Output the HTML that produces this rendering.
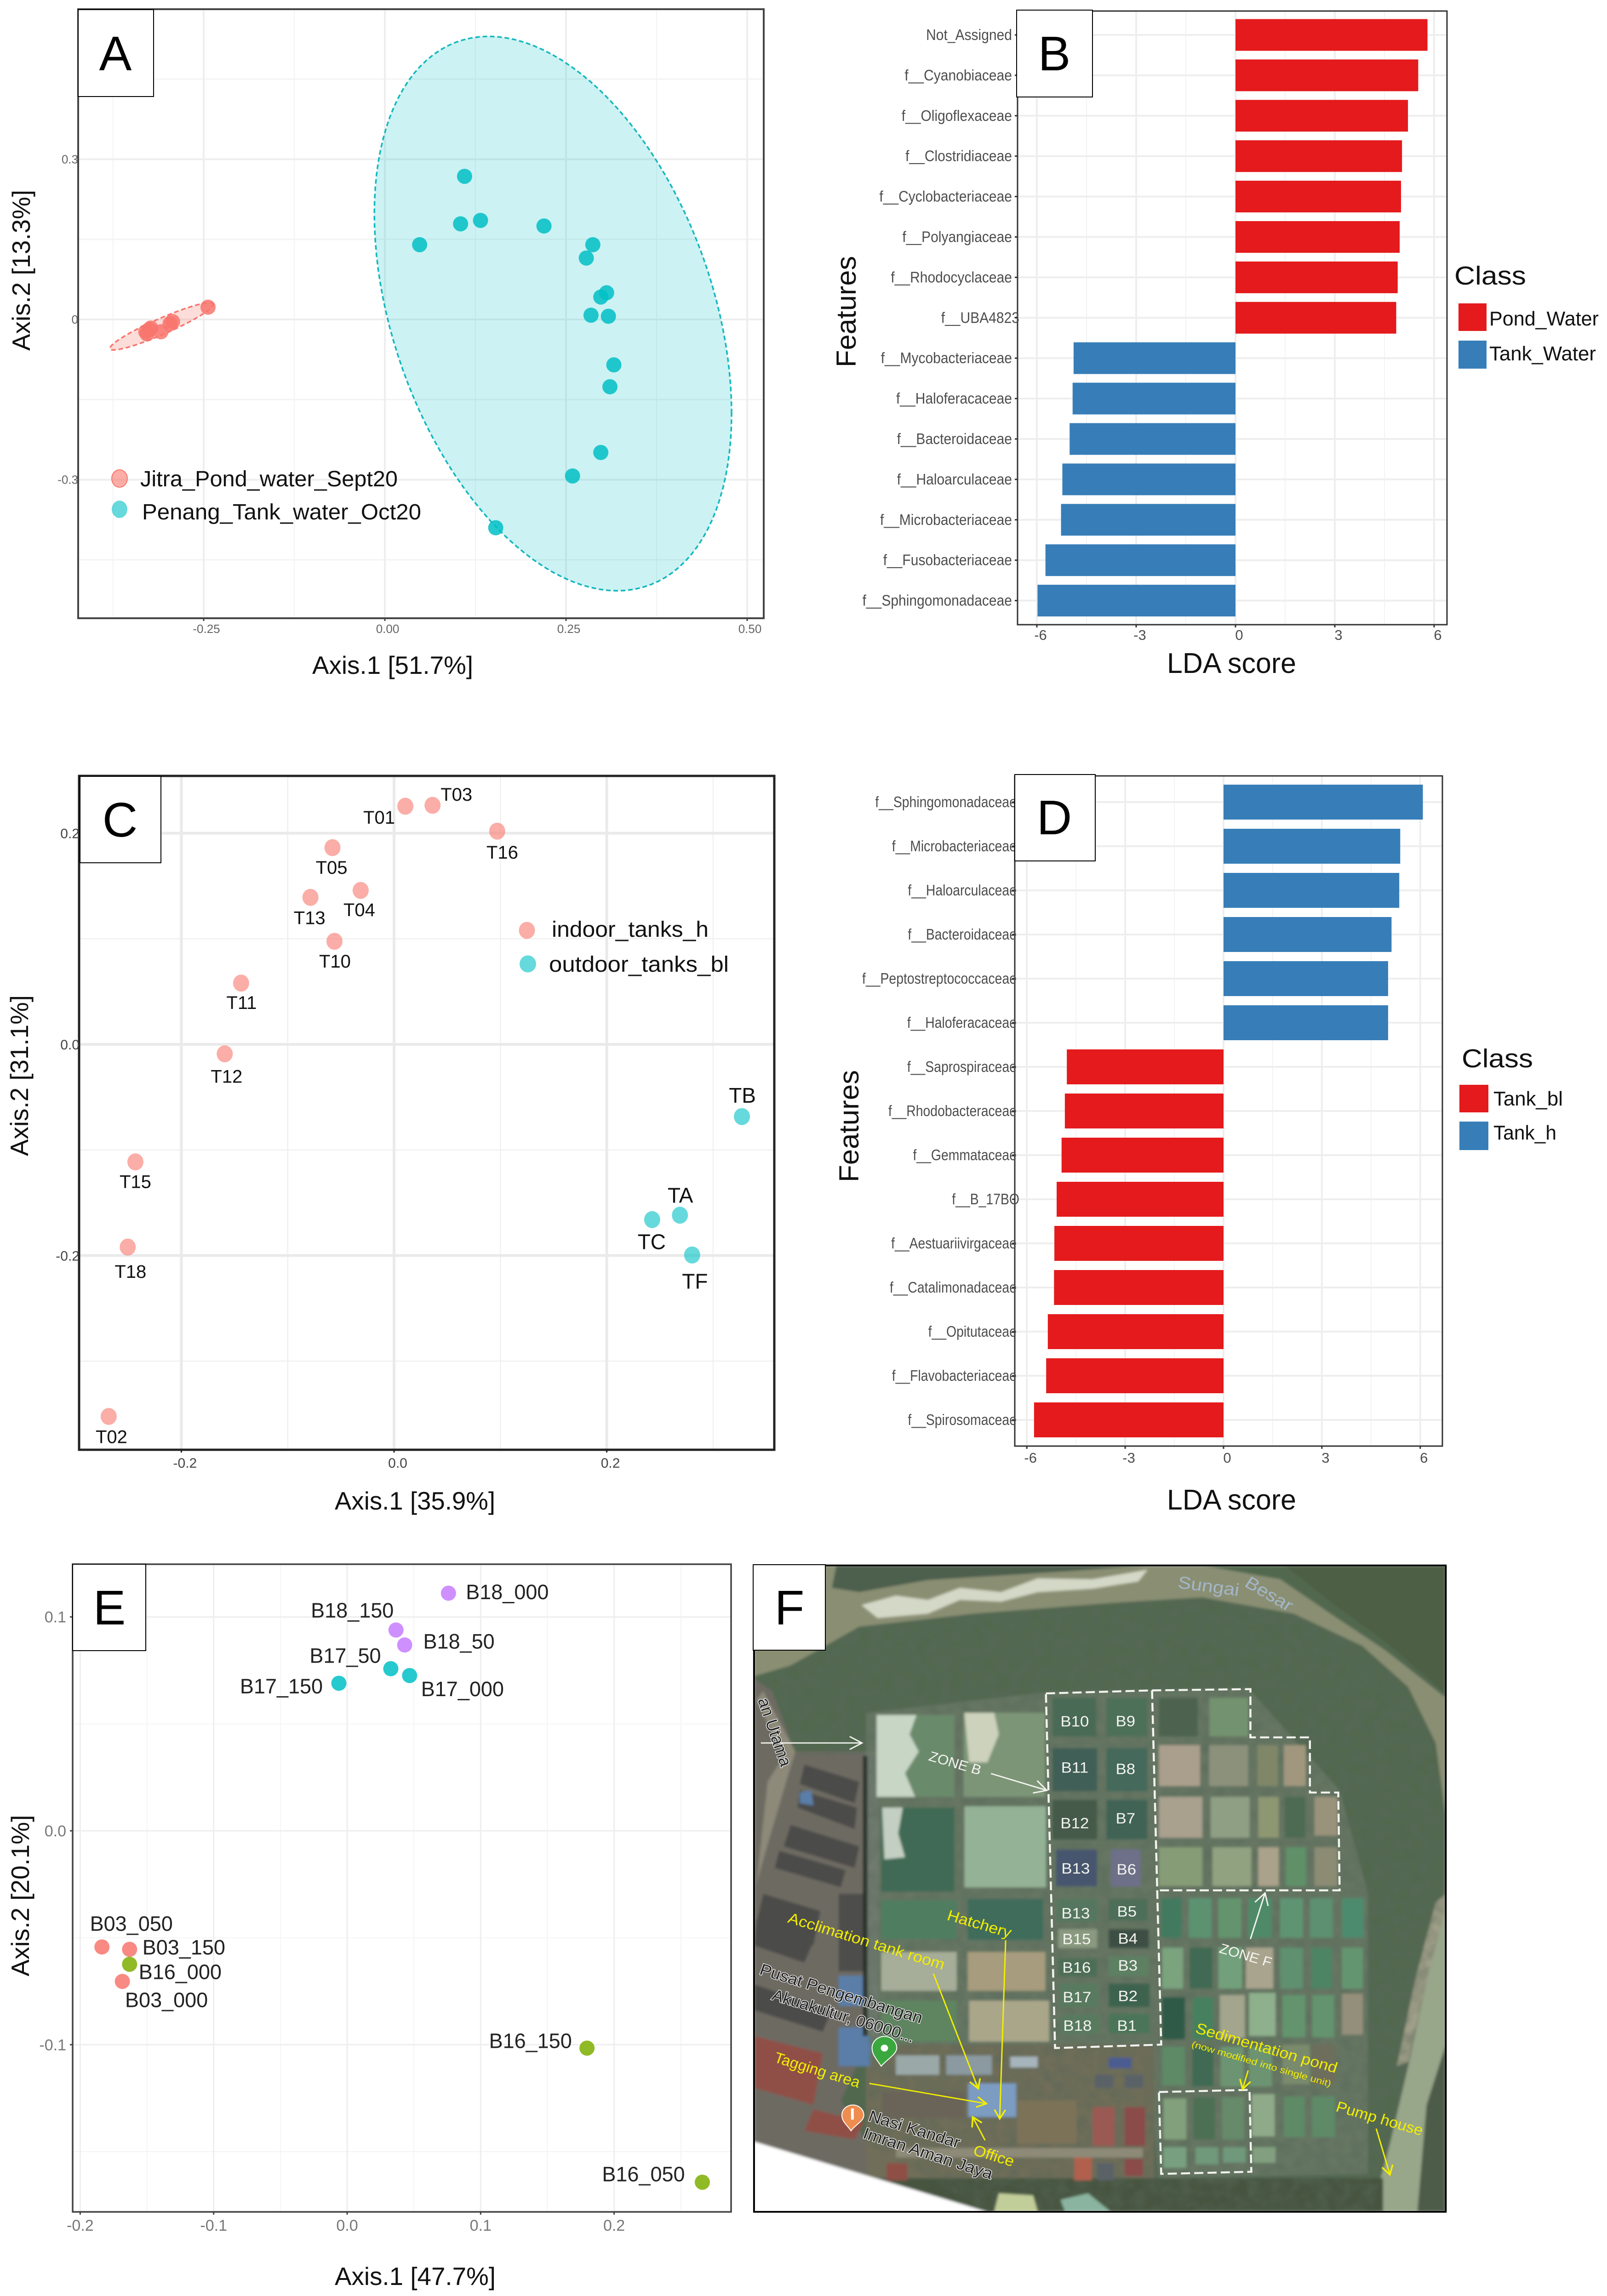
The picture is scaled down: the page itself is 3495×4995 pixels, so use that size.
<!DOCTYPE html>
<html lang="en">
<head>
<meta charset="utf-8">
<title>Microbial community figure, panels A to F</title>
<style>
html,body{margin:0;padding:0;background:#fff}
svg{display:block}
text{font-family:"Liberation Sans",sans-serif}
.title{font-size:55px;fill:#111}
.letter{font-size:106px;fill:#000;text-anchor:middle}
.box{fill:#fff;stroke:#000;stroke-width:2}
.yl{fill:#f2ee00;font-size:35px}
.wh{fill:#f4f4f0;font-size:35px;text-anchor:middle}
.dk{fill:#222;font-size:37px;stroke:#e8e8e8;stroke-width:3px;paint-order:stroke}
</style>
</head>
<body>
<svg xmlns="http://www.w3.org/2000/svg" width="3495" height="4995" viewBox="0 0 3495 4995">
<defs>
<filter id="soft" x="-2%" y="-2%" width="104%" height="104%"><feGaussianBlur stdDeviation="3"/></filter>
<filter id="grain" x="0" y="0" width="100%" height="100%"><feTurbulence type="fractalNoise" baseFrequency="0.04" numOctaves="3" seed="7"/><feColorMatrix values="0 0 0 0 0.1  0 0 0 0 0.14  0 0 0 0 0.1  0.7 0.7 0 0 -0.5"/></filter>
<clipPath id="mapclip"><rect x="20" y="38" width="1512" height="1500"/></clipPath>
<clipPath id="forestclip"><path d="M20 295L100 270L250 180L500 150L800 125L1000 112L1200 150L1350 225L1450 320L1510 450L1532 620V830L1490 1000L1450 1200L1410 1380L1370 1538H530L270 1380L265 480H110L60 330Z"/></clipPath>
<marker id="ya" markerWidth="10" markerHeight="10" refX="8" refY="5" orient="auto"><path d="M1 1L8 5L1 9" fill="none" stroke="#f2ee00" stroke-width="1.2"/></marker>
<marker id="wa" markerWidth="12" markerHeight="12" refX="10" refY="6" orient="auto"><path d="M1 1L10 6L1 11" fill="none" stroke="#f4f4f0" stroke-width="1"/></marker>
</defs>
<rect width="3495" height="4995" fill="#fff"/>

<g id="panelA"></g>
<g>
<rect class="box" x="170" y="21" width="164" height="189"/>
<text class="letter" x="251" y="153">A</text>
<text class="title" x="679" y="1466" textLength="350" lengthAdjust="spacingAndGlyphs">Axis.1 [51.7%]</text>
<text class="title" text-anchor="middle" transform="translate(65,588) rotate(-90)" textLength="350" lengthAdjust="spacingAndGlyphs">Axis.2 [13.3%]</text>
<ellipse cx="260" cy="1041" rx="17" ry="19" fill="#F8766D" fill-opacity=".6" stroke="#F8766D" stroke-width="2"/>
<ellipse cx="260" cy="1108" rx="17" ry="19" fill="#00BFC4" fill-opacity=".6"/>
<text x="305" y="1058" font-size="48" fill="#111" textLength="560" lengthAdjust="spacingAndGlyphs">Jitra_Pond_water_Sept20</text>
<text x="309" y="1130" font-size="48" fill="#111" textLength="607" lengthAdjust="spacingAndGlyphs">Penang_Tank_water_Oct20</text>
</g>

<g id="panelB"></g>
<g>
<rect class="box" x="2211" y="22" width="165" height="189"/>
<text class="letter" x="2293" y="153">B</text>
<text x="2538" y="1464" font-size="62" fill="#111" textLength="281" lengthAdjust="spacingAndGlyphs">LDA score</text>
<text font-size="60" fill="#111" text-anchor="middle" transform="translate(1861,678) rotate(-90)" textLength="242" lengthAdjust="spacingAndGlyphs">Features</text>
<text x="3163" y="619" font-size="57" fill="#111" textLength="156" lengthAdjust="spacingAndGlyphs">Class</text>
<rect x="3172" y="660" width="61" height="60" fill="#E41A1C"/>
<rect x="3172" y="741" width="61" height="61" fill="#377EB8"/>
<text x="3239" y="708" font-size="44" fill="#111" textLength="238" lengthAdjust="spacingAndGlyphs">Pond_Water</text>
<text x="3239" y="784" font-size="44" fill="#111" textLength="232" lengthAdjust="spacingAndGlyphs">Tank_Water</text>
</g>

<g id="panelC"></g>
<g>
<rect class="box" x="174" y="1689" width="176" height="188"/>
<text class="letter" x="261" y="1820">C</text>
<text class="title" x="728" y="3284" textLength="349" lengthAdjust="spacingAndGlyphs">Axis.1 [35.9%]</text>
<text class="title" text-anchor="middle" transform="translate(61,2340) rotate(-90)" textLength="350" lengthAdjust="spacingAndGlyphs">Axis.2 [31.1%]</text>
<ellipse cx="1146" cy="2024" rx="17.5" ry="18.5" fill="#F8766D" fill-opacity=".6"/>
<ellipse cx="1148" cy="2097" rx="18" ry="18.5" fill="#00BFC4" fill-opacity=".6"/>
<text x="1200" y="2038" font-size="48" fill="#111" textLength="341" lengthAdjust="spacingAndGlyphs">indoor_tanks_h</text>
<text x="1194" y="2114" font-size="48" fill="#111" textLength="391" lengthAdjust="spacingAndGlyphs">outdoor_tanks_bl</text>
</g>

<g id="panelD"></g>
<g>
<rect class="box" x="2207" y="1685" width="175" height="188"/>
<text class="letter" x="2293" y="1815">D</text>
<text x="2538" y="3284" font-size="62" fill="#111" textLength="281" lengthAdjust="spacingAndGlyphs">LDA score</text>
<text font-size="60" fill="#111" text-anchor="middle" transform="translate(1867,2450) rotate(-90)" textLength="244" lengthAdjust="spacingAndGlyphs">Features</text>
<text x="3179" y="2322" font-size="57" fill="#111" textLength="155" lengthAdjust="spacingAndGlyphs">Class</text>
<rect x="3174" y="2360" width="63" height="60" fill="#E41A1C"/>
<rect x="3174" y="2440" width="63" height="62" fill="#377EB8"/>
<text x="3248" y="2405" font-size="44" fill="#111" textLength="151" lengthAdjust="spacingAndGlyphs">Tank_bl</text>
<text x="3248" y="2479" font-size="44" fill="#111" textLength="137" lengthAdjust="spacingAndGlyphs">Tank_h</text>
</g>

<g id="panelE"></g>
<g>
<rect class="box" x="158" y="3403" width="159" height="188"/>
<text class="letter" x="238" y="3534">E</text>
<text class="title" x="728" y="4971" textLength="350" lengthAdjust="spacingAndGlyphs">Axis.1 [47.7%]</text>
<text class="title" text-anchor="middle" transform="translate(63,4124) rotate(-90)" textLength="351" lengthAdjust="spacingAndGlyphs">Axis.2 [20.1%]</text>
</g>

<g transform="translate(1620,3370) scale(.995,.9375)">
<g clip-path="url(#mapclip)">
<g filter="url(#soft)">
<rect x="20" y="38" width="1512" height="1500" fill="#51684f"/>
<path d="M20 38H1000L1170 70L1280 150L1400 235L1532 345V620L1510 450L1450 320L1350 225L1200 150L1000 112L800 125L500 150L250 180L100 270L20 295Z" fill="#8a8f73"/>
<path d="M200 38H880L700 52L400 72L250 100L190 90Z" fill="#4d5f4e"/>
<path d="M255 130L330 108L400 118L470 90L560 100L640 68L760 70L880 48L860 75L760 92L640 100L560 122L470 118L400 150L290 160Z" fill="#d4d8c6"/>
<path d="M1180 38H1532V335L1400 215L1290 130Z" fill="#4e5f44"/>
<path d="M1532 830V1150L1490 1290L1470 1538H1370L1410 1380L1450 1200L1490 1000Z" fill="#98a68a"/>
<path d="M1532 1150V1538H1470L1490 1290Z" fill="#4d5c4a"/>
<path d="M1510 820L1532 800V830L1490 1000L1450 1190L1425 1200L1465 1000Z" fill="#a09f88"/>
<path d="M20 300L60 330L110 470L260 470L265 1150L210 1280L270 1380L530 1538H20V1375Z" fill="#6d6a62"/>
<path d="M265 380L660 332L1100 322L1300 560L1362 800L1362 1450L905 1460L880 1155H265Z" fill="#667663"/>
<rect x="265" y="1150" width="630" height="320" fill="#6f6d58"/>
<rect x="265" y="1460" width="1130" height="78" fill="#46543f"/>
<path d="M130 500L250 540L240 590L120 545Z M120 560L245 600L240 650L115 600Z M100 640L250 690L240 740L85 690Z M75 700L220 745L210 785L65 740Z M40 800L165 840L150 920L25 870Z M25 860L150 910L130 960L20 920Z M20 1010L190 1070L170 1120L20 1070Z" fill="#4b4b49"/>
<path d="M20 1130L170 1170L150 1290L20 1250Z M150 1300L260 1330L240 1370L130 1350Z M310 1425H355V1465H310Z" fill="#8f4f46"/>
<path d="M205 990H265V1060H205Z M205 1110H275V1200H205Z M120 565L145 560L150 595L120 590Z" fill="#5a7ea8"/>
<path d="M205 800H260V980H205Z" fill="#4d4e4c"/>
<rect x="262" y="470" width="30" height="660" fill="#6f7a6e"/>
<rect x="258" y="480" width="10" height="650" fill="#2c332c"/>
<path d="M40 330L110 470L90 540L40 720L25 780L50 540L85 480L25 350Z" fill="#8e8a7a"/>
<g clip-path="url(#forestclip)"><rect x="20" y="38" width="1512" height="1500" filter="url(#grain)"/></g>
<g>
<rect x="290" y="385" width="168" height="190" fill="#6a8a6c"/><path d="M288 385H375L360 430L380 470L350 520L372 575H288Z" fill="#c8d6c6"/>
<rect x="478" y="380" width="178" height="195" fill="#7d9577"/><path d="M480 380H545L555 430L530 495H490Z" fill="#ccd2bc"/>
<rect x="298" y="600" width="160" height="195" fill="#3f6a55"/><path d="M300 600H345L335 660L350 715L305 720Z" fill="#c2cfc2"/>
<rect x="480" y="597" width="178" height="188" fill="#94b296"/>
<rect x="298" y="815" width="165" height="90" fill="#4f7d60"/><rect x="487" y="812" width="165" height="95" fill="#3f6c5c"/>
<rect x="298" y="935" width="165" height="90" fill="#a6ad98"/><rect x="487" y="935" width="170" height="90" fill="#a79c7d"/>
<rect x="298" y="1048" width="165" height="95" fill="#5e8460"/><rect x="490" y="1048" width="175" height="95" fill="#aaa68a"/>
</g>
<g>
<rect x="672" y="345" width="96" height="90" fill="#4a6b55"/><rect x="790" y="345" width="90" height="90" fill="#4e7058"/>
<rect x="672" y="462" width="98" height="100" fill="#3f5f56"/><rect x="790" y="462" width="90" height="100" fill="#44695a"/>
<rect x="672" y="582" width="98" height="92" fill="#445a48"/><rect x="790" y="582" width="90" height="92" fill="#3f6456"/>
<rect x="680" y="697" width="90" height="86" fill="#46566e"/><rect x="800" y="697" width="65" height="86" fill="#6d6f88"/>
<rect x="682" y="812" width="90" height="54" fill="#56775f"/><rect x="795" y="812" width="85" height="50" fill="#4d6e58"/>
<rect x="685" y="882" width="85" height="44" fill="#8a9a80"/><rect x="795" y="882" width="88" height="44" fill="#3c5044"/>
<rect x="685" y="950" width="85" height="42" fill="#4e6e56"/><rect x="795" y="945" width="88" height="46" fill="#5d8063"/>
<rect x="688" y="1008" width="85" height="55" fill="#597a5e"/><rect x="795" y="1008" width="90" height="55" fill="#3e6350"/>
<rect x="690" y="1080" width="85" height="46" fill="#597a5e"/><rect x="795" y="1078" width="90" height="46" fill="#4c7458"/>
</g>
<g>
<rect x="905" y="345" width="85" height="90" fill="#4d6450"/><rect x="1015" y="345" width="85" height="90" fill="#739270"/>
<rect x="905" y="455" width="90" height="95" fill="#aa9f8c"/><rect x="1015" y="455" width="85" height="95" fill="#8c917c"/><rect x="1120" y="455" width="45" height="95" fill="#7f8768"/><rect x="1178" y="455" width="48" height="95" fill="#a0977e"/>
<rect x="905" y="575" width="95" height="95" fill="#a9a08e"/><rect x="1018" y="575" width="85" height="95" fill="#8f9f84"/><rect x="1122" y="575" width="45" height="95" fill="#8d9772"/><rect x="1180" y="575" width="45" height="95" fill="#4e6a52"/><rect x="1245" y="575" width="50" height="90" fill="#9a937c"/>
<rect x="905" y="692" width="95" height="90" fill="#869c76"/><rect x="1022" y="692" width="85" height="90" fill="#90a280"/><rect x="1122" y="692" width="45" height="90" fill="#aaa28a"/><rect x="1182" y="692" width="45" height="90" fill="#5f9068"/><rect x="1245" y="692" width="50" height="90" fill="#8c8c74"/>
</g>
<g>
<rect x="910" y="810" width="45" height="92" fill="#427a60"/><rect x="970" y="810" width="50" height="92" fill="#5c9270"/><rect x="1035" y="810" width="50" height="92" fill="#63946e"/><rect x="1100" y="810" width="52" height="92" fill="#4f8a68"/><rect x="1170" y="810" width="50" height="92" fill="#5e9472"/><rect x="1235" y="810" width="50" height="92" fill="#5c9070"/><rect x="1305" y="810" width="48" height="92" fill="#4d8b6e"/>
<rect x="912" y="925" width="46" height="95" fill="#7aa37e"/><rect x="972" y="925" width="50" height="95" fill="#3f6a52"/><rect x="1035" y="925" width="52" height="95" fill="#73a07c"/><rect x="1095" y="925" width="60" height="95" fill="#a9a48e"/><rect x="1170" y="925" width="50" height="95" fill="#5e9070"/><rect x="1238" y="925" width="46" height="95" fill="#4d8464"/><rect x="1305" y="925" width="46" height="95" fill="#64966f"/>
<rect x="912" y="1040" width="50" height="98" fill="#2f5a46"/><rect x="978" y="1040" width="46" height="98" fill="#47805f"/><rect x="1038" y="1035" width="55" height="100" fill="#a3a58c"/><rect x="1102" y="1030" width="58" height="100" fill="#8fb08c"/><rect x="1175" y="1035" width="50" height="98" fill="#63946e"/><rect x="1240" y="1035" width="48" height="98" fill="#63946e"/><rect x="1305" y="1032" width="46" height="95" fill="#948f7a"/>
<rect x="912" y="1155" width="50" height="90" fill="#5e8a66"/><rect x="978" y="1155" width="46" height="92" fill="#3f6a52"/><rect x="1040" y="1155" width="50" height="92" fill="#6d9472"/><rect x="1102" y="1155" width="50" height="92" fill="#6d9472"/><rect x="1175" y="1150" width="60" height="92" fill="#7a8a6c"/><rect x="1240" y="1150" width="50" height="92" fill="#6e6e5c"/>
<rect x="915" y="1275" width="50" height="95" fill="#82a07c"/><rect x="980" y="1272" width="48" height="98" fill="#4d7055"/><rect x="1043" y="1272" width="48" height="98" fill="#668a6a"/><rect x="1108" y="1265" width="50" height="98" fill="#8faa88"/><rect x="1178" y="1270" width="46" height="95" fill="#5e8a66"/><rect x="1240" y="1270" width="50" height="95" fill="#5e8a68"/>
<rect x="915" y="1388" width="50" height="48" fill="#78a080"/><rect x="985" y="1388" width="50" height="40" fill="#70987a"/><rect x="1045" y="1388" width="50" height="36" fill="#70987a"/><rect x="1110" y="1388" width="50" height="36" fill="#82a080"/>
</g>
<g>
<rect x="330" y="1175" width="95" height="45" fill="#9aa8a8"/><rect x="440" y="1175" width="100" height="45" fill="#8a9aa0"/>
<rect x="488" y="1240" width="105" height="78" fill="#7c9cc2"/><rect x="580" y="1178" width="60" height="25" fill="#a6b4bc"/>
<rect x="300" y="1260" width="180" height="60" fill="#6a6458"/><rect x="595" y="1280" width="130" height="100" fill="#7c7258"/>
<rect x="760" y="1295" width="48" height="90" fill="#9a5a52"/><rect x="830" y="1295" width="45" height="90" fill="#8a4c48"/><rect x="795" y="1180" width="50" height="25" fill="#4c5c90"/>
<rect x="765" y="1220" width="40" height="30" fill="#5a6268"/><rect x="830" y="1220" width="40" height="30" fill="#5a6268"/>
<rect x="720" y="1410" width="38" height="55" fill="#b0604e"/><rect x="830" y="1415" width="40" height="40" fill="#8a4c48"/><rect x="770" y="1425" width="36" height="40" fill="#5a6268"/>
<path d="M555 1495L630 1500L640 1538H545Z" fill="#c2ce9a"/><path d="M690 1510L750 1495L800 1538H700Z" fill="#8ab4a0"/>
<rect x="330" y="1390" width="540" height="22" fill="#8e8a78"/>
</g>
<path d="M20 1375L530 1538H20Z" fill="#fff"/>
</g>
<g fill="none" stroke="#f4f4f0" stroke-width="4.5" stroke-dasharray="20 9">
<path d="M658 335L890 328L910 1150L678 1158Z"/>
<path d="M890 328L1105 325V437H1235V565H1297L1300 792H905"/>
<path d="M905 1260L1103 1255L1107 1445L910 1450Z"/>
</g>
<g fill="none">
<path d="M35 450H256" stroke="#f4f4f0" stroke-width="3" marker-end="url(#wa)"/>
<path d="M538 521L660 560" stroke="#f4f4f0" stroke-width="3" marker-end="url(#wa)"/>
<path d="M1105 905L1137 798" stroke="#f4f4f0" stroke-width="3" marker-end="url(#wa)"/>
<path d="M412 985L510 1252" stroke="#f2ee00" stroke-width="3" marker-end="url(#ya)"/>
<path d="M570 908L557 1322" stroke="#f2ee00" stroke-width="3" marker-end="url(#ya)"/>
<path d="M272 1240L528 1287" stroke="#f2ee00" stroke-width="3" marker-end="url(#ya)"/>
<path d="M525 1372L498 1318" stroke="#f2ee00" stroke-width="3" marker-end="url(#ya)"/>
<path d="M1100 1210L1088 1253" stroke="#f2ee00" stroke-width="3" marker-end="url(#ya)"/>
<path d="M1380 1345L1410 1452" stroke="#f2ee00" stroke-width="3" marker-end="url(#ya)"/>
</g>
<text transform="translate(945,90) rotate(8)" font-size="40" fill="#a3b6c8" textLength="135" lengthAdjust="spacingAndGlyphs">Sungai</text>
<text transform="translate(1090,85) rotate(32)" font-size="40" fill="#a3b6c8" textLength="115" lengthAdjust="spacingAndGlyphs">Besar</text>
<text class="dk" transform="translate(28,350) rotate(72)" textLength="165" lengthAdjust="spacingAndGlyphs">an Utama</text>
<g>
<text class="wh" x="721" y="412">B10</text><text class="wh" x="832" y="411">B9</text>
<text class="wh" x="721" y="519">B11</text><text class="wh" x="832" y="522">B8</text>
<text class="wh" x="721" y="648">B12</text><text class="wh" x="832" y="637">B7</text>
<text class="wh" x="723" y="753">B13</text><text class="wh" x="834" y="755">B6</text>
<text class="wh" x="723" y="857">B13</text><text class="wh" x="835" y="853">B5</text>
<text class="wh" x="725" y="917">B15</text><text class="wh" x="837" y="916">B4</text>
<text class="wh" x="725" y="983">B16</text><text class="wh" x="837" y="978">B3</text>
<text class="wh" x="726" y="1052">B17</text><text class="wh" x="837" y="1049">B2</text>
<text class="wh" x="727" y="1118">B18</text><text class="wh" x="835" y="1118">B1</text>
</g>
<text transform="translate(400,490) rotate(17)" font-size="32" fill="#f4f4f0" textLength="118" lengthAdjust="spacingAndGlyphs">ZONE B</text>
<text transform="translate(1035,936) rotate(17)" font-size="32" fill="#f4f4f0" textLength="118" lengthAdjust="spacingAndGlyphs">ZONE F</text>
<text class="yl" transform="translate(92,866) rotate(18)" textLength="358" lengthAdjust="spacingAndGlyphs">Acclimation tank room</text>
<text class="yl" transform="translate(440,860) rotate(17)" textLength="145" lengthAdjust="spacingAndGlyphs">Hatchery</text>
<text class="yl" transform="translate(62,1190) rotate(18)" textLength="195" lengthAdjust="spacingAndGlyphs">Tagging area</text>
<text class="yl" transform="translate(497,1405) rotate(18)" textLength="92" lengthAdjust="spacingAndGlyphs">Office</text>
<text class="yl" transform="translate(983,1122) rotate(17)" textLength="322" lengthAdjust="spacingAndGlyphs">Sedimentation pond</text>
<text class="yl" style="font-size:21px" transform="translate(975,1155) rotate(17)" textLength="318" lengthAdjust="spacingAndGlyphs">(now modified into single unit)</text>
<text class="yl" transform="translate(1290,1304) rotate(17)" textLength="197" lengthAdjust="spacingAndGlyphs">Pump house</text>
<text class="dk" transform="translate(30,986) rotate(18)" textLength="372" lengthAdjust="spacingAndGlyphs">Pusat Pengembangan</text>
<text class="dk" transform="translate(57,1045) rotate(18)" textLength="325" lengthAdjust="spacingAndGlyphs">Akuakultur, 06000...</text>
<text class="dk" transform="translate(268,1326) rotate(18)" textLength="208" lengthAdjust="spacingAndGlyphs">Nasi Kandar</text>
<text class="dk" transform="translate(256,1366) rotate(19)" textLength="297" lengthAdjust="spacingAndGlyphs">Imran Aman Jaya</text>
<path d="M298 1200C285 1180 278 1172 278 1158A27 27 0 1 1 332 1158C332 1172 310 1185 298 1200Z" fill="#3aa83e" stroke="#fff" stroke-width="2"/>
<circle cx="305" cy="1158" r="8" fill="#fff"/>
<path d="M232 1350C222 1335 212 1328 212 1314A24 24 0 1 1 260 1314C260 1328 242 1335 232 1350Z" fill="#ee8d4f" stroke="#fff" stroke-width="2"/>
<rect x="232" y="1298" width="6" height="26" fill="#fff"/>
</g>
<rect x="20" y="38" width="1512" height="1500" fill="none" stroke="#000" stroke-width="4"/>
</g>
<rect class="box" x="1638" y="3404" width="157" height="186"/>
<text class="letter" x="1717" y="3534">F</text>
</svg>

<script>
// Panel A: ordination
const aTankX = [0.110,0.1045,0.132,0.048,0.2196,0.287,0.278,0.306,0.298,0.2845,0.3085,0.316,0.3106,0.298,0.259,0.153];
const aTankY = [0.268,0.179,0.1855,0.140,0.175,0.140,0.115,0.050,0.042,0.008,0.006,-0.085,-0.126,-0.249,-0.293,-0.390];
const aPondX = [-0.244,-0.293,-0.2965,-0.309,-0.325,-0.328,-0.330,-0.323];
const aPondY = [0.023,-0.004,-0.008,-0.023,-0.019,-0.027,-0.023,-0.016];
const aTankEllipse = [0.232,0.011,0.2465,0.519,-0.36];
const aPondEllipse = [-0.308,-0.0128,0.0713,0.0443,0.93];
const aXTicks = [-0.25,0,0.25,0.5];
const aXTickLabels = ['-0.25','0.00','0.25','0.50'];
const aYTicks = [0.3,0,-0.3];
const aYTickLabels = ['0.3','0','-0.3'];
const aXMinor = [-0.375,-0.125,0.125,0.375];
const aYMinor = [0.45,0.15,-0.15,-0.45];

// Panel B: LDA scores
const bFeatures = ['Not_Assigned','f__Cyanobiaceae','f__Oligoflexaceae','f__Clostridiaceae','f__Cyclobacteriaceae','f__Polyangiaceae','f__Rhodocyclaceae','f__UBA4823','f__Mycobacteriaceae','f__Haloferacaceae','f__Bacteroidaceae','f__Haloarculaceae','f__Microbacteriaceae','f__Fusobacteriaceae','f__Sphingomonadaceae'];
const bScores = [5.80,5.52,5.21,5.03,5.00,4.96,4.90,4.855,-4.89,-4.92,-5.01,-5.23,-5.27,-5.74,-5.98];

// Panel C: ordination
const cSamples = ['T01','T03','T16','T05','T04','T13','T10','T11','T12','T15','T18','T02','TB','TA','TC','TF'];
const cX = [0.0106,0.0362,0.0970,-0.0579,-0.0314,-0.0786,-0.0560,-0.1438,-0.1592,-0.2432,-0.2504,-0.2683,0.3271,0.2688,0.2427,0.2803];
const cY = [0.2255,0.2264,0.2019,0.1863,0.1458,0.1392,0.0976,0.0580,-0.0090,-0.1113,-0.1920,-0.3524,-0.0684,-0.1618,-0.1660,-0.1995];
const cXTicks = [-0.2,0,0.2];
const cYTicks = [0.2,0,-0.2];
const cXMinor = [-0.1,0.1,0.3];
const cYMinor = [0.1,-0.1,-0.3];
const cLabelShift = {T01:[-57,38],T03:[52,-10],T16:[11,60],T05:[-2,57],T04:[-3,56],T13:[-2,58],T10:[1,57],T11:[1,56],T12:[4,63],T15:[0,57],T18:[6,67],T02:[6,58],TB:[1,-30],TA:[1,-27],TC:[-1,64],TF:[6,73]};

// Panel D: LDA scores
const dFeatures = ['f__Sphingomonadaceae','f__Microbacteriaceae','f__Haloarculaceae','f__Bacteroidaceae','f__Peptostreptococcaceae','f__Haloferacaceae','f__Saprospiraceae','f__Rhodobacteraceae','f__Gemmataceae','f__B_17BO','f__Aestuariivirgaceae','f__Catalimonadaceae','f__Opitutaceae','f__Flavobacteriaceae','f__Spirosomaceae'];
const dScores = [6.08,5.39,5.36,5.125,5.02,5.02,-4.78,-4.84,-4.94,-5.09,-5.16,-5.17,-5.36,-5.41,-5.78];
const ldaTicks = [-6,-3,0,3,6];
const ldaMinor = [-4.5,-1.5,1.5,4.5];

// Panel E: ordination
const eSamples = ['B03_050','B03_150','B03_000','B16_000','B16_150','B16_050','B17_150','B17_50','B17_000','B18_000','B18_150','B18_50'];
const eGroups = ['B03','B03','B03','B16','B16','B16','B17','B17','B17','B18','B18','B18'];
const eX = [-0.1837,-0.1630,-0.1684,-0.1630,0.1797,0.2661,-0.0062,0.0327,0.0468,0.0759,0.0366,0.0431];
const eY = [-0.0543,-0.0554,-0.0704,-0.0624,-0.1016,-0.1643,0.0690,0.0758,0.0726,0.1111,0.0939,0.0869];
const eXTicks = [-0.2,-0.1,0,0.1,0.2];
const eXTickLabels = ['-0.2','-0.1','0.0','0.1','0.2'];
const eYTicks = [0.1,0,-0.1];
const eYTickLabels = ['0.1','0.0','-0.1'];
const eXMinor = [-0.15,-0.05,0.05,0.15,0.25];
const eYMinor = [0.05,-0.05,-0.15];
const eLabelShift = {B18_000:[128,13],B18_150:[-95,-27],B18_50:[118,8],B17_50:[-99,-13],B17_150:[-125,22],B17_000:[115,45],B03_050:[64,-35],B03_150:[118,11],B16_000:[110,32],B03_000:[96,56],B16_150:[-123,0],B16_050:[-128,-2]};
const eGroupColors = {B03:'#F8766D',B16:'#7CAE00',B17:'#00BFC4',B18:'#C77CFF'};

const NS = 'http://www.w3.org/2000/svg';
function mk(tag, attrs, parent) {
  const el = document.createElementNS(NS, tag);
  for (const k in attrs) el.setAttribute(k, attrs[k]);
  parent.appendChild(el);
  return el;
}
function gridLine(g, x1, y1, x2, y2, color, width) {
  const line = mk('line', {x1, y1, x2, y2, stroke: color, 'stroke-width': width}, g);
  
  
}
function tickMark(g, x1, y1, x2, y2, color) {
  const tick = mk('line', {x1, y1, x2, y2, stroke: color, 'stroke-width': 3}, g);
  
  
}
function tickLabel(g, x, y, str, anchor, size, color) {
  const t = mk('text', {x, y, 'text-anchor': anchor, 'font-size': size, fill: color}, g);
  t.textContent = str;
  
  
}
function frame(g, box, color, width) {
  const r = mk('rect', {x: box.l, y: box.t, width: box.r - box.l, height: box.b - box.t, fill: 'none', stroke: color, 'stroke-width': width}, g);
  
  
}
function ellipsePath(params, sx, sy) {
  const cx = params[0], cy = params[1], rx = params[2], ry = params[3], rho = params[4];
  const s = Math.sqrt(1 - rho * rho);
  let d = '';
  for (let i = 0; i < 120; i++) {
    const t = i / 120 * 2 * Math.PI;
    const x = cx + rx * Math.cos(t);
    const y = cy + ry * (rho * Math.cos(t) + s * Math.sin(t));
    d += (i ? 'L' : 'M') + sx(x).toFixed(1) + ' ' + sy(y).toFixed(1);
  }
  return d + 'Z';
}

// ---------- Panel A ----------
(function () {
  const g = document.getElementById('panelA');
  const box = {l: 170, r: 1661, t: 20, b: 1345};
  const sx = v => 837 + v * 1576;
  const sy = v => 695 - v * 1162;
  aXMinor.forEach(v => gridLine(g, sx(v), box.t, sx(v), box.b, '#f3f3f3', 2));
  aYMinor.forEach(v => gridLine(g, box.l, sy(v), box.r, sy(v), '#f3f3f3', 3));
  aXTicks.forEach(v => gridLine(g, sx(v), box.t, sx(v), box.b, '#eeeeee', 4));
  aYTicks.forEach(v => gridLine(g, box.l, sy(v), box.r, sy(v), '#eeeeee', 4));
  const tankEllipse = mk('path', {d: ellipsePath(aTankEllipse, sx, sy), fill: '#00BFC4', 'fill-opacity': 0.2, stroke: '#12b8bd', 'stroke-width': 3.5, 'stroke-dasharray': '10 6'}, g);
  
  
  const pondEllipse = mk('path', {d: ellipsePath(aPondEllipse, sx, sy), fill: '#F8766D', 'fill-opacity': 0.25, stroke: '#F8766D', 'stroke-width': 3.5, 'stroke-dasharray': '10 6'}, g);
  
  
  aTankX.forEach((v, i) => {
    const p = mk('circle', {cx: sx(v), cy: sy(aTankY[i]), r: 16.5, fill: '#00BFC4', 'fill-opacity': 0.85}, g);
    
    
  });
  aPondX.forEach((v, i) => {
    const p = mk('circle', {cx: sx(v), cy: sy(aPondY[i]), r: 16.5, fill: '#F8766D', 'fill-opacity': 0.85}, g);
    
    
  });
  frame(g, box, '#444', 4);
  aXTicks.forEach((v, i) => {
    tickMark(g, sx(v), box.b, sx(v), box.b + 6, '#444');
    tickLabel(g, sx(v) + 6, 1377, aXTickLabels[i], 'middle', 26, '#666');
  });
  aYTicks.forEach((v, i) => {
    tickLabel(g, box.l, sy(v) + 9, aYTickLabels[i], 'end', 26, '#666');
  });
})();

// ---------- LDA bar panels ----------
function drawLda(gid, features, scores, opts) {
  const g = document.getElementById(gid);
  const box = opts.box;
  const sx = v => opts.zero + v * opts.unit;
  const rowY = i => opts.firstRow + i * opts.step;
  ldaMinor.forEach(v => gridLine(g, sx(v), box.t, sx(v), box.b, '#f3f3f3', 2));
  ldaTicks.forEach(v => gridLine(g, sx(v), box.t, sx(v), box.b, '#eeeeee', 4));
  features.forEach((f, i) => gridLine(g, box.l, rowY(i), box.r, rowY(i), '#eeeeee', 4));
  scores.forEach((s, i) => {
    const x0 = sx(Math.min(0, s));
    const w = Math.abs(sx(s) - sx(0));
    const bar = mk('rect', {x: x0, y: rowY(i) - opts.barH / 2, width: w, height: opts.barH, fill: s > 0 ? opts.posColor : opts.negColor}, g);
    
    
  });
  frame(g, box, '#333', 3);
  features.forEach((f, i) => {
    const nudge = opts.nudge[f] || 0;
    const lab = mk('text', {transform: 'translate(' + (opts.labelRight + nudge) + ',' + (rowY(i) + 11) + ') scale(' + opts.squeeze + ',1)', 'text-anchor': 'end', 'font-size': 33, fill: '#4d4d4d'}, g);
    lab.textContent = f;
    
    
    tickMark(g, box.l - 6, rowY(i), box.l, rowY(i), '#333');
  });
  ldaTicks.forEach(v => {
    tickMark(g, sx(v), box.b, sx(v), box.b + 6, '#333');
    tickLabel(g, sx(v) + 8, opts.tickBase, String(v), 'middle', 31, '#4d4d4d');
  });
}
drawLda('panelB', bFeatures, bScores, {box: {l: 2213, r: 3147, t: 24, b: 1359}, zero: 2687, unit: 72, firstRow: 76, step: 87.9, barH: 69, posColor: '#E41A1C', negColor: '#377EB8', labelRight: 2201, squeeze: 0.91, nudge: {'f__UBA4823': 16}, tickBase: 1392});
drawLda('panelD', dFeatures, dScores, {box: {l: 2207, r: 3137, t: 1688, b: 3146}, zero: 2661, unit: 71.3, firstRow: 1745, step: 96, barH: 76, posColor: '#377EB8', negColor: '#E41A1C', labelRight: 2211, squeeze: 0.86, nudge: {'f__B_17BO': 6}, tickBase: 3182});

// ---------- Panel C ----------
(function () {
  const g = document.getElementById('panelC');
  const box = {l: 172, r: 1684, t: 1688, b: 3154};
  const sx = v => 857 + v * 2313;
  const sy = v => 2272 - v * 2297;
  cXMinor.forEach(v => gridLine(g, sx(v), box.t, sx(v), box.b, '#f0f0f0', 2.5));
  cYMinor.forEach(v => gridLine(g, box.l, sy(v), box.r, sy(v), '#f0f0f0', 2.5));
  cXTicks.forEach(v => gridLine(g, sx(v), box.t, sx(v), box.b, '#eaeaea', 6));
  cYTicks.forEach(v => gridLine(g, box.l, sy(v), box.r, sy(v), '#eaeaea', 6));
  frame(g, box, '#222', 5);
  cSamples.forEach((name, i) => {
    const outdoor = name.length === 2;
    const x = sx(cX[i]), y = sy(cY[i]);
    const p = mk('ellipse', {cx: x, cy: y, rx: 17.5, ry: 18.5, fill: outdoor ? '#00BFC4' : '#F8766D', 'fill-opacity': 0.6}, g);
    
    
    const shift = cLabelShift[name];
    const t = mk('text', {x: x + shift[0], y: y + shift[1], 'text-anchor': 'middle', 'font-size': outdoor ? 46 : 40, fill: '#111'}, g);
    t.textContent = name;
    
    
  });
  cXTicks.forEach(v => {
    tickMark(g, sx(v), box.b, sx(v), box.b + 6, '#222');
    tickLabel(g, sx(v) + 8, 3193, v.toFixed(1), 'middle', 30, '#444');
  });
  cYTicks.forEach(v => {
    tickLabel(g, box.l + 1, sy(v) + 11, v.toFixed(1), 'end', 30, '#444');
  });
})();

// ---------- Panel E ----------
(function () {
  const g = document.getElementById('panelE');
  const box = {l: 158, r: 1590, t: 3403, b: 4812};
  const sx = v => 755 + v * 2903;
  const sy = v => 3983 - v * 4653;
  eXMinor.forEach(v => gridLine(g, sx(v), box.t, sx(v), box.b, '#f4f4f4', 2));
  eYMinor.forEach(v => gridLine(g, box.l, sy(v), box.r, sy(v), '#f4f4f4', 2));
  eXTicks.forEach(v => gridLine(g, sx(v), box.t, sx(v), box.b, '#eeeeee', 3));
  eYTicks.forEach(v => gridLine(g, box.l, sy(v), box.r, sy(v), '#eeeeee', 3));
  frame(g, box, '#444', 3.5);
  eSamples.forEach((name, i) => {
    const x = sx(eX[i]), y = sy(eY[i]);
    const p = mk('circle', {cx: x, cy: y, r: 16.5, fill: eGroupColors[eGroups[i]], 'fill-opacity': 0.85}, g);
    
    
    const shift = eLabelShift[name];
    const t = mk('text', {x: x + shift[0], y: y + shift[1], 'text-anchor': 'middle', 'font-size': 45, fill: '#222'}, g);
    t.textContent = name;
    
    
  });
  eXTicks.forEach((v, i) => {
    tickMark(g, sx(v), box.b, sx(v), box.b + 6, '#444');
    tickLabel(g, sx(v), 4853, eXTickLabels[i], 'middle', 34, '#777');
  });
  eYTicks.forEach((v, i) => {
    tickMark(g, box.l - 6, sy(v), box.l, sy(v), '#444');
    tickLabel(g, 144, sy(v) + 12, eYTickLabels[i], 'end', 34, '#777');
  });
})();
</script>
</body>
</html>
